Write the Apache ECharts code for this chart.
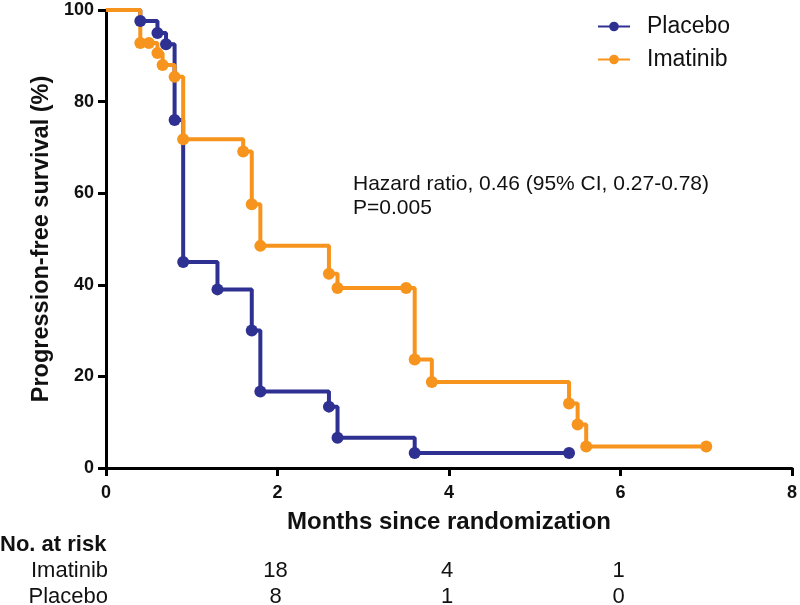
<!DOCTYPE html>
<html>
<head>
<meta charset="utf-8">
<script src="https://cdn.jsdelivr.net/npm/echarts@6/dist/echarts.min.js"></script>
<style>html,body{margin:0;padding:0;background:#fff}#c{width:800px;height:605px}</style>
</head>
<body>
<div id="c"></div>
<script>
// Kaplan-Meier data
const placeboTime = [0, 0.4, 0.6, 0.7, 0.8, 0.9, 1.3, 1.7, 1.8, 2.6, 2.7, 3.6, 5.4];
const placeboSurv = [100, 97.6, 95, 92.5, 76, 45, 39, 30, 16.7, 13.4, 6.6, 3.3, 3.3];
const imatinibTime = [0, 0.4, 0.5, 0.6, 0.66, 0.8, 0.9, 1.6, 1.7, 1.8, 2.6, 2.7, 3.5, 3.6, 3.8, 5.4, 5.5, 5.6, 7.0];
const imatinibSurv = [100, 92.8, 92.8, 90.6, 88, 85.4, 71.8, 69.1, 57.6, 48.5, 42.4, 39.3, 39.3, 23.7, 18.8, 14.1, 9.5, 4.7, 4.7];
const riskTimes = [2, 4, 6];
const riskImatinib = ['18', '4', '1'];
const riskPlacebo = ['8', '1', '0'];
const seriesNames = ['Placebo', 'Imatinib'];
const annotationLines = ['Hazard ratio, 0.46 (95% CI, 0.27-0.78)', 'P=0.005'];

const BLUE = '#2e3192', ORANGE = '#f7941d';
const FONT = '"Liberation Sans", Arial, sans-serif';

function mk(times, surv) {
  return times.map((t, i) => i === 0 ? { value: [t, surv[i]], symbol: 'none' } : [t, surv[i]]);
}

const chart = echarts.init(document.getElementById('c'), null, { renderer: 'canvas' });
const option = {
  animation: false,
  textStyle: { fontFamily: FONT },
  grid: { left: 106, right: 6, top: 10, bottom: 137, containLabel: false },
  legend: {
    orient: 'vertical', left: 597, top: 15, itemGap: 10, padding: 0,
    itemWidth: 32, itemHeight: 12,
    textStyle: { fontSize: 23, color: '#111', fontFamily: FONT, padding: [0, 0, 0, 12] },
    data: seriesNames
  },
  xAxis: {
    type: 'value', min: 0, max: 8, interval: 2,
    name: 'Months since randomization', nameLocation: 'middle', nameGap: 42,
    nameTextStyle: { fontSize: 24, fontWeight: 'bold', color: '#111', fontFamily: FONT },
    axisLine: { lineStyle: { color: '#000', width: 3 } },
    axisTick: { show: true, length: 8, lineStyle: { color: '#000', width: 3 } },
    axisLabel: { fontSize: 18, fontWeight: 'bold', color: '#111', margin: 16, fontFamily: FONT },
    splitLine: { show: false }
  },
  yAxis: {
    type: 'value', min: 0, max: 100, interval: 20,
    name: 'Progression-free survival (%)', nameLocation: 'middle', nameGap: 52,
    nameTextStyle: { fontSize: 23.5, fontWeight: 'bold', color: '#111', fontFamily: FONT },
    axisLine: { lineStyle: { color: '#000', width: 3 } },
    axisTick: { show: true, length: 8, lineStyle: { color: '#000', width: 3 } },
    axisLabel: { fontSize: 18, fontWeight: 'bold', color: '#111', margin: 12, fontFamily: FONT },
    splitLine: { show: false }
  },
  series: [
    {
      name: seriesNames[0], type: 'line', step: 'end', data: mk(placeboTime, placeboSurv),
      symbol: 'circle', symbolSize: 12, showAllSymbol: true,
      lineStyle: { color: BLUE, width: 4 }, itemStyle: { color: BLUE }
    },
    {
      name: seriesNames[1], type: 'line', step: 'end', data: mk(imatinibTime, imatinibSurv),
      symbol: 'circle', symbolSize: 12, showAllSymbol: true,
      lineStyle: { color: ORANGE, width: 4 }, itemStyle: { color: ORANGE }
    }
  ]
};
chart.setOption(option);

const gfx = [];
gfx.push({ type: 'text', left: 353, top: 174, style: { text: annotationLines[0], font: '21px ' + FONT, fill: '#111' } });
gfx.push({ type: 'text', left: 353, top: 198, style: { text: annotationLines[1], font: '21px ' + FONT, fill: '#111' } });
gfx.push({ type: 'text', x: 0, y: 545, style: { text: 'No. at risk', font: 'bold 22px ' + FONT, fill: '#111', align: 'left', verticalAlign: 'middle' } });
gfx.push({ type: 'text', x: 108, y: 571, style: { text: seriesNames[1], font: '22px ' + FONT, fill: '#111', align: 'right', verticalAlign: 'middle' } });
gfx.push({ type: 'text', x: 108, y: 597, style: { text: seriesNames[0], font: '22px ' + FONT, fill: '#111', align: 'right', verticalAlign: 'middle' } });
riskTimes.forEach((t, i) => {
  const px = chart.convertToPixel({ xAxisIndex: 0 }, t);
  gfx.push({ type: 'text', x: px - 2, y: 571, style: { text: riskImatinib[i], font: '22px ' + FONT, fill: '#111', align: 'center', verticalAlign: 'middle' } });
  gfx.push({ type: 'text', x: px - 2, y: 597, style: { text: riskPlacebo[i], font: '22px ' + FONT, fill: '#111', align: 'center', verticalAlign: 'middle' } });
});
chart.setOption({ graphic: gfx });
</script>
</body>
</html>
